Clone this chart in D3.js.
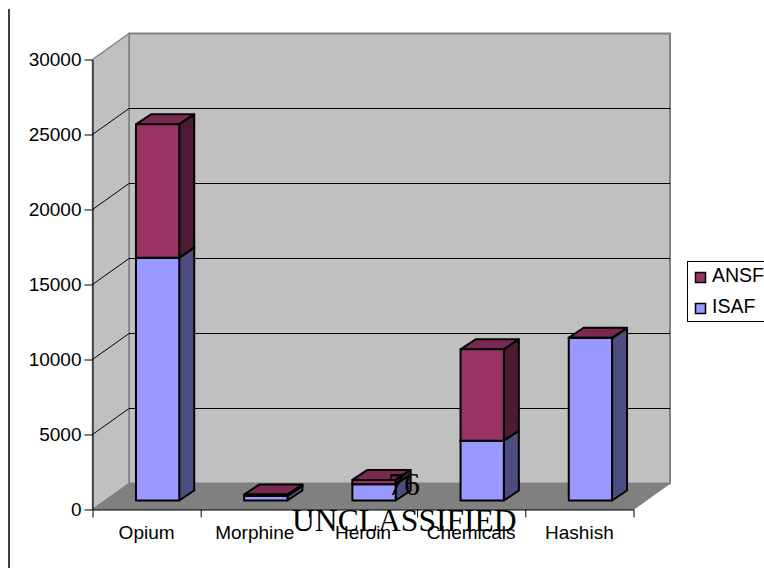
<!DOCTYPE html>
<html>
<head>
<meta charset="utf-8">
<script src="https://cdn.jsdelivr.net/npm/d3@7"></script>
<style>
body { margin: 0; background: #fff; overflow: hidden; }
text { font-family: "Liberation Sans", Arial, sans-serif; fill: #000; }
.overlay { font-family: "Liberation Serif", "Times New Roman", serif; font-size: 32px; }
</style>
</head>
<body>
<div id="chart"></div>
<script>
const categories = ["Opium", "Morphine", "Heroin", "Chemicals", "Hashish"];
const isaf = [16190, 300, 1080, 3990, 10830];
const ansf = [8890, 100, 290, 6090, 20];
const yTicks = [0, 5000, 10000, 15000, 20000, 25000, 30000];

const width = 764, height = 568;
const depth = {x: 36.5, y: -26};       // floor depth of the 3d box
const barOffset = {x: 11, y: -9};      // bar front, set back from the box front
const barDepth = {x: 15, y: -10};

const svg = d3.select("#chart").append("svg")
    .attr("width", width)
    .attr("height", height);

const xScale = d3.scaleBand()
    .domain(categories)
    .range([92.5, 633.5])
    .paddingInner(0.6)
    .paddingOuter(0.3);

const xTicks = d3.scaleLinear()
    .domain([0, categories.length])
    .range([92.5, 633.5]);

const yScale = d3.scaleLinear()
    .domain([0, 30000])
    .range([509.5, 59.5]);

const x0 = xScale.range()[0], x1 = xScale.range()[1];
const yBase = yScale(0), yTop = yScale(30000);

const poly = (pts, fill, stroke, sw) => svg.append("polygon")
    .attr("points", pts.map(p => p.join(",")).join(" "))
    .attr("fill", fill)
    .attr("stroke", stroke)
    .attr("stroke-width", sw)
    .attr("stroke-linejoin", "round");

// page rule on the left
svg.append("line")
    .attr("x1", 9).attr("x2", 9)
    .attr("y1", 9).attr("y2", 568)
    .attr("stroke", "#000").attr("stroke-width", 1.5);

// back wall, side wall, floor
poly([[x0 + depth.x, yTop + depth.y], [x1 + depth.x, yTop + depth.y], [x1 + depth.x, yBase + depth.y], [x0 + depth.x, yBase + depth.y]], "#c0c0c0", "#808080", 2);
poly([[x0, yTop], [x0 + depth.x, yTop + depth.y], [x0 + depth.x, yBase + depth.y], [x0, yBase]], "#c0c0c0", "#808080", 1.5);
poly([[x0, yBase], [x0 + depth.x, yBase + depth.y], [x1 + depth.x, yBase + depth.y], [x1, yBase]], "#808080", "#808080", 1);

// gridlines, side wall then back wall
yTicks.slice(1, -1).forEach(t => {
    svg.append("path")
        .attr("d", `M${x0},${yScale(t)}L${x0 + depth.x},${yScale(t) + depth.y}L${x1 + depth.x},${yScale(t) + depth.y}`)
        .attr("fill", "none")
        .attr("stroke", "#000")
        .attr("stroke-width", 1);
});

// one stacked block of a bar: front, side, top
function drawBlock(name, v0, v1, front, side, top) {
    const left = xScale(name) + barOffset.x;
    const right = left + xScale.bandwidth();
    const yLow = yScale(v0) + barOffset.y;
    const yHigh = yScale(v1) + barOffset.y;
    const sw = 2;
    poly([[left, yHigh], [right, yHigh], [right + barDepth.x, yHigh + barDepth.y], [left + barDepth.x, yHigh + barDepth.y]], top, "#000", sw);
    poly([[right, yLow], [right + barDepth.x, yLow + barDepth.y], [right + barDepth.x, yHigh + barDepth.y], [right, yHigh]], side, "#000", sw);
    poly([[left, yLow], [right, yLow], [right, yHigh], [left, yHigh]], front, "#000", sw);
}

categories.forEach((name, i) => {
    drawBlock(name, 0, isaf[i], "#9999ff", "#4d4d80", "#7a7acc");
    drawBlock(name, isaf[i], isaf[i] + ansf[i], "#993366", "#4d1a33", "#7a2952");
});

// axes
const yAxis = d3.axisLeft(yScale).tickValues(yTicks).tickSize(8).tickSizeOuter(0).tickPadding(3).tickFormat(d3.format("d"));
const gy = svg.append("g").attr("transform", `translate(${x0},0)`).call(yAxis);

const xAxis = d3.axisBottom(xTicks).tickValues(d3.range(categories.length + 1)).tickSize(8).tickSizeOuter(0).tickFormat("");
const gx = svg.append("g").attr("transform", `translate(0,${yBase})`).call(xAxis);

[gy, gx].forEach(g => {
    g.select(".domain").attr("stroke", "#000").attr("stroke-width", 1);
    g.selectAll(".tick line").attr("stroke", "#000").attr("stroke-width", 1);
});
gy.selectAll("text").style("font-size", "19px").style("font-family", "'Liberation Sans'");

svg.selectAll(".cat")
    .data(categories)
    .join("text")
    .attr("class", "cat")
    .attr("x", d => xScale(d) + xScale.bandwidth() / 2)
    .attr("y", 539)
    .attr("text-anchor", "middle")
    .style("font-size", "19px")
    .text(d => d);

// legend
const legendNames = ["ANSF", "ISAF"];
const legendColors = ["#993366", "#9999ff"];
svg.append("rect")
    .attr("x", 687.5).attr("y", 261.5)
    .attr("width", 90).attr("height", 60)
    .attr("fill", "#fff").attr("stroke", "#000").attr("stroke-width", 1);
legendNames.forEach((name, i) => {
    svg.append("rect")
        .attr("x", 695.5).attr("y", 272.5 + i * 31)
        .attr("width", 10).attr("height", 10)
        .attr("fill", legendColors[i]).attr("stroke", "#000").attr("stroke-width", 1.5);
    svg.append("text")
        .attr("x", 712).attr("y", 282 + i * 31)
        .style("font-size", "19.5px")
        .text(name);
});

// text from the page that sits over the chart
svg.append("text").attr("class", "overlay").attr("x", 388).attr("y", 495).text("76");
svg.append("text").attr("class", "overlay").attr("x", 292).attr("y", 531).style("font-size", "31.6px").text("UNCLASSIFIED");
</script>
</body>
</html>
